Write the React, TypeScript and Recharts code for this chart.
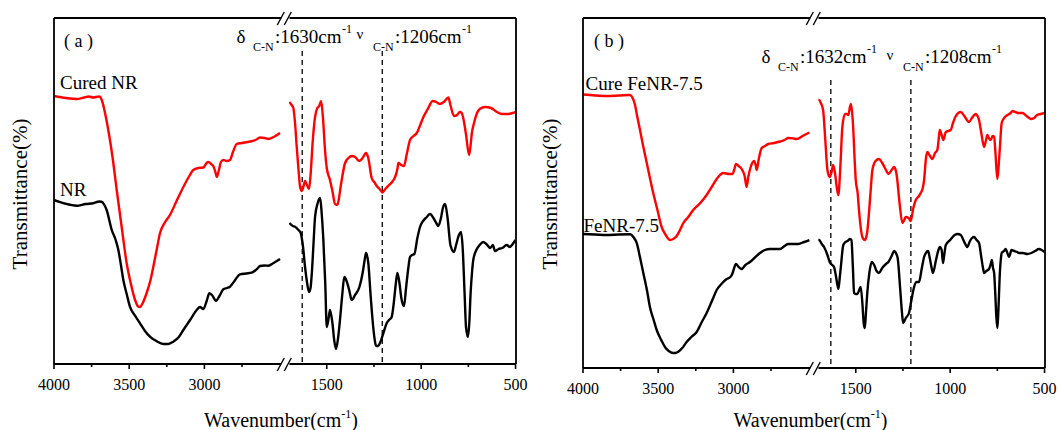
import React from 'react'
import { LineChart, Line, XAxis, YAxis, ReferenceLine } from 'recharts'

const FONT = "'Liberation Serif', 'Times New Roman', Times, serif"

// wavenumber (cm-1), transmittance (arb. units) -- high wavenumber part
const curedNRHigh = [
  [4000, 267], [3920, 265], [3850, 264], [3800, 265.5], [3770, 266.5], [3740, 265.5], [3700, 266.5],
  [3680, 262], [3665, 253], [3639, 233], [3610, 205], [3583, 173], [3550, 136], [3517, 100], [3490, 80],
  [3461, 63], [3440, 56.5], [3428, 56], [3410, 60], [3384, 70], [3360, 82], [3340, 96], [3315, 115],
  [3295, 130], [3265, 140], [3229, 148], [3185, 162], [3140, 176], [3100, 187], [3074, 193], [3040, 195],
  [3007, 195.5], [2985, 200], [2974, 201], [2955, 199], [2941, 197], [2925, 190], [2918, 186], [2905, 192],
  [2890, 201], [2874, 203], [2850, 202], [2830, 203], [2810, 211], [2785, 219], [2750, 220], [2697, 221.5],
  [2660, 223], [2630, 225.5], [2600, 225], [2575, 224], [2540, 226], [2497, 230],
]
const nrHigh = [
  [4000, 163], [3930, 159.5], [3849, 157.3], [3790, 159], [3739, 159.7], [3700, 161.5], [3683, 161.3],
  [3665, 158], [3650, 153], [3616, 133], [3590, 123], [3572, 113], [3555, 98], [3539, 83], [3515, 68],
  [3495, 56.3], [3460, 47], [3428, 39.7], [3395, 32], [3362, 26.3], [3320, 22], [3273, 19], [3240, 19],
  [3207, 21.3], [3170, 26], [3140, 33], [3095, 43], [3051, 53], [3030, 56], [3007, 54], [2985, 62],
  [2967, 69.7], [2950, 68], [2923, 62.3], [2900, 67], [2874, 73.7], [2850, 75], [2830, 76.3], [2800, 82],
  [2763, 88.7], [2720, 89.5], [2685, 90.3], [2650, 94], [2630, 97], [2600, 97.5], [2575, 97.3], [2540, 100],
  [2497, 104],
]
// fingerprint part
const curedNRLow = [
  [1698, 261], [1690, 259], [1677, 255], [1668, 240], [1659, 216], [1650, 194], [1641, 176], [1632, 172],
  [1624, 176], [1615, 182], [1605, 178], [1594, 174], [1585, 190], [1575, 220], [1562, 246], [1550, 255],
  [1540, 257], [1530, 262], [1520, 245], [1510, 215], [1500, 195], [1483, 183], [1470, 172], [1456, 159],
  [1445, 158], [1439, 161], [1425, 178], [1403, 200], [1385, 205], [1368, 207], [1350, 206], [1327, 202],
  [1310, 205], [1292, 210], [1280, 205], [1262, 185], [1245, 180], [1235, 177], [1220, 174], [1205, 170.5],
  [1190, 174], [1170, 178], [1150, 182], [1138, 186], [1125, 195], [1121, 200], [1105, 198], [1091, 197],
  [1075, 210], [1059, 223], [1040, 227], [1023, 230], [1005, 238], [988, 246], [965, 254], [939, 262],
  [920, 261], [900, 259], [880, 261], [856, 265.5], [845, 258], [826, 247], [810, 248], [795, 251],
  [785, 250], [772, 240], [762, 228], [746, 208], [738, 218], [732, 229], [720, 240], [705, 249.5],
  [690, 254], [661, 256], [630, 255], [599, 251], [570, 249], [538, 249], [515, 250], [500, 251],
]
const nrLow = [
  [1698, 140], [1680, 137], [1668, 136.3], [1650, 133], [1638, 130], [1625, 115], [1615, 96], [1604, 80],
  [1594, 71], [1586, 75], [1579, 90], [1570, 120], [1562, 146], [1548, 160], [1535, 165], [1527, 150],
  [1518, 123], [1508, 80], [1500, 36], [1490, 45], [1483, 53], [1470, 40], [1460, 22], [1451, 14],
  [1440, 25], [1430, 43], [1418, 68], [1407, 86], [1395, 82], [1380, 72], [1368, 63], [1350, 68],
  [1327, 76], [1310, 90], [1300, 102], [1292, 110], [1280, 100], [1267, 66], [1255, 38], [1245, 22],
  [1239, 17], [1228, 17], [1218, 20], [1200, 30], [1182, 40], [1170, 43], [1156, 46], [1145, 60],
  [1135, 78], [1126, 90], [1115, 80], [1105, 65], [1091, 57], [1080, 75], [1068, 95], [1059, 106],
  [1048, 108], [1036, 109], [1020, 125], [1006, 136], [990, 142], [970, 146], [953, 149], [935, 145],
  [920, 140], [909, 137], [895, 145], [885, 155], [873, 159], [860, 145], [845, 118], [826, 111],
  [815, 118], [800, 128], [789, 131], [780, 115], [770, 70], [762, 35], [752, 26], [745, 40], [738, 70],
  [730, 92], [724, 103], [705, 114], [690, 118], [671, 121], [655, 119], [634, 115], [620, 118],
  [609, 112], [590, 114], [570, 115], [547, 118], [530, 116], [515, 119], [500, 123],
]
const cureFeNRHigh = [
  [4000, 273.5], [3920, 272.5], [3842, 272], [3760, 272.5], [3687, 273], [3670, 270], [3654, 263],
  [3640, 252], [3621, 238], [3600, 222], [3576, 205], [3555, 190], [3533, 175], [3505, 158], [3477, 141],
  [3450, 133], [3422, 128], [3400, 129], [3377, 132], [3355, 138], [3333, 145], [3300, 151], [3267, 158],
  [3220, 165], [3178, 173], [3140, 182], [3111, 189], [3090, 193], [3067, 195], [3030, 194], [3005, 194],
  [2995, 198], [2983, 204], [2965, 202], [2945, 199], [2925, 192], [2912, 181], [2900, 192], [2885, 201],
  [2863, 207], [2852, 203], [2845, 198], [2830, 210], [2812, 220], [2790, 222], [2768, 224], [2730, 225],
  [2690, 226.5], [2660, 228], [2635, 230], [2600, 229.5], [2579, 229], [2540, 232], [2495, 235.5],
]
const feNRHigh = [
  [4000, 134], [3920, 133.5], [3842, 133], [3760, 133.5], [3687, 133.7], [3665, 131], [3643, 125],
  [3620, 110], [3599, 95], [3575, 78], [3555, 61], [3530, 48], [3510, 38], [3480, 28], [3455, 21],
  [3430, 17], [3410, 15.3], [3385, 15], [3366, 16.3], [3340, 20], [3311, 26], [3280, 31], [3244, 36],
  [3210, 46], [3178, 55], [3140, 68], [3111, 78], [3080, 84], [3045, 89], [3020, 91], [3005, 95],
  [2995, 100], [2983, 104], [2965, 101], [2945, 99], [2920, 103], [2890, 106], [2860, 110], [2823, 115],
  [2790, 118], [2757, 119], [2720, 119], [2690, 119], [2660, 122], [2635, 124], [2600, 124], [2569, 124],
  [2530, 126], [2495, 128],
]
const cureFeNRLow = [
  [1698, 268], [1694, 268], [1685, 265], [1673, 258], [1662, 230], [1650, 198], [1638, 191], [1628, 196],
  [1620, 203], [1610, 195], [1600, 180], [1592, 173], [1582, 200], [1571, 241], [1557, 254], [1548, 254],
  [1539, 253], [1530, 262], [1525, 264], [1515, 245], [1505, 205], [1500, 188], [1490, 175], [1483, 158],
  [1465, 131], [1452, 128], [1440, 135], [1430, 155], [1420, 180], [1412, 198], [1395, 207], [1377, 209],
  [1360, 205], [1340, 198], [1327, 194], [1310, 198], [1297, 201], [1285, 195], [1280, 188], [1268, 165],
  [1253, 145], [1243, 148], [1235, 151], [1220, 150], [1209, 147], [1195, 160], [1182, 168], [1165, 172],
  [1156, 175], [1145, 180], [1138, 188], [1128, 210], [1121, 216], [1110, 213], [1100, 210], [1094, 209],
  [1080, 215], [1068, 218], [1060, 230], [1055, 238], [1045, 233], [1036, 228], [1023, 236], [1010, 237],
  [997, 238], [985, 245], [970, 252], [944, 256], [925, 252], [900, 246], [885, 250], [864, 254],
  [855, 252], [847, 248], [835, 235], [820, 221], [810, 228], [803, 233], [795, 230], [785, 228],
  [775, 232], [767, 231], [760, 215], [750, 189], [742, 205], [735, 225], [727, 245], [710, 251],
  [697, 253], [680, 255], [670, 257], [655, 256], [640, 255], [617, 255], [595, 252], [573, 249],
  [555, 250], [540, 253], [520, 254], [500, 255],
]
const feNRLow = [
  [1698, 128], [1694, 128], [1680, 124], [1668, 121], [1650, 113], [1638, 106], [1625, 103], [1615, 101],
  [1605, 92], [1592, 79], [1585, 90], [1579, 101], [1566, 123], [1555, 126], [1544, 127], [1530, 129],
  [1523, 128], [1515, 100], [1509, 75], [1500, 74], [1491, 74], [1480, 79], [1474, 81], [1465, 65],
  [1458, 45], [1452, 40], [1446, 55], [1439, 75], [1428, 95], [1415, 106], [1400, 102], [1390, 97],
  [1377, 95], [1360, 100], [1340, 104], [1327, 106], [1310, 112], [1297, 117], [1285, 114], [1278, 110],
  [1265, 80], [1255, 55], [1249, 45], [1235, 50], [1218, 55], [1205, 68], [1191, 81], [1178, 86],
  [1165, 86], [1150, 100], [1138, 111], [1125, 116], [1117, 117], [1108, 110], [1098, 100], [1091, 95],
  [1075, 108], [1062, 118], [1055, 121], [1045, 118], [1038, 105], [1032, 112], [1023, 123], [1000, 128],
  [976, 133], [960, 134], [944, 133], [930, 128], [920, 124], [909, 121], [895, 127], [884, 130],
  [873, 131], [860, 128], [847, 125], [836, 112], [826, 100], [820, 95], [808, 97], [794, 99], [785, 104],
  [779, 108], [773, 100], [767, 95], [760, 70], [755, 50], [750, 40], [745, 55], [738, 90], [732, 108],
  [727, 115], [715, 117], [706, 119], [697, 115], [688, 111], [682, 114], [676, 118], [660, 117],
  [645, 116], [635, 115], [615, 115], [591, 114], [570, 115], [550, 117], [530, 119], [515, 118],
  [500, 116],
]

const highTicks = [4000, 3750, 3500, 3250, 3000, 2750]
const lowTicks = [1500, 1250, 1000, 750, 500]
const labelledTicks = [4000, 3500, 3000, 1500, 1000, 500]
const HIGH_DOMAIN = [2490, 4000]
const LOW_DOMAIN = [500, 1700]

// px per cm-1 on each side of the axis break
const HIGH_SCALE = 75.2 / 500
const LOW_SCALE = 94.4 / 500
const HIGH_W = (HIGH_DOMAIN[1] - HIGH_DOMAIN[0]) * HIGH_SCALE
const LOW_W = (LOW_DOMAIN[1] - LOW_DOMAIN[0]) * LOW_SCALE

const toPoints = (pairs: number[][]) => pairs.map(([wn, t]) => ({ wn, t }))

const panels = [
  {
    key: 'a', x0: 54, x1: 516, top: 18, bottom: 364, yDomain: [-1, 345], dashFrom: 312,
    bands: [1630, 1206],
    red: [curedNRHigh, curedNRLow], black: [nrHigh, nrLow],
  },
  {
    key: 'b', x0: 583, x1: 1045, top: 18, bottom: 368, yDomain: [0, 350], dashFrom: 288,
    bands: [1632, 1208],
    red: [cureFeNRHigh, cureFeNRLow], black: [feNRHigh, feNRLow],
  },
]

function AxisTick(props: any) {
  const { x, y, payload } = props
  const major = labelledTicks.includes(payload.value)
  return (
    <g>
      <line x1={x} x2={x} y1={y} y2={y + (major ? 5 : 3)} stroke="#000" strokeWidth={1.6} />
      {major && (
        <text x={x} y={y + 26} textAnchor="middle" fontSize={16} fontFamily={FONT} fill="#000">
          {payload.value}
        </text>
      )}
    </g>
  )
}

const ML = 24
const MR = 24

function Segment({ panel, side }: { panel: any; side: 'high' | 'low' }) {
  const high = side === 'high'
  const segW = high ? HIGH_W : LOW_W
  const left = high ? panel.x0 : panel.x1 - LOW_W
  const idx = high ? 0 : 1
  return (
    <div style={{ position: 'absolute', left: left - ML, top: 0 }}>
      <LineChart
        width={segW + ML + MR}
        height={430}
        margin={{ top: panel.top, right: MR, left: ML, bottom: 430 - panel.bottom - 40 }}
      >
        <XAxis
          type="number"
          dataKey="wn"
          domain={high ? HIGH_DOMAIN : LOW_DOMAIN}
          allowDataOverflow
          reversed
          ticks={high ? highTicks : lowTicks}
          interval={0}
          tick={<AxisTick />}
          tickLine={false}
          tickSize={0}
          tickMargin={0}
          height={40}
          axisLine={false}
        />
        <YAxis type="number" domain={panel.yDomain} allowDataOverflow hide width={0} />
        {!high &&
          panel.bands.map((b: number) => (
            <ReferenceLine
              key={b}
              segment={[{ x: b, y: panel.dashFrom }, { x: b, y: panel.yDomain[0] }]}
              stroke="#000"
              strokeWidth={1.3}
              strokeDasharray="5 4"
              ifOverflow="visible"
            />
          ))}
        <Line
          data={toPoints(panel.red[idx])}
          dataKey="t"
          type="monotone"
          stroke="#ff0000"
          strokeWidth={2.4}
          dot={false}
          isAnimationActive={false}
        />
        <Line
          data={toPoints(panel.black[idx])}
          dataKey="t"
          type="monotone"
          stroke="#000"
          strokeWidth={2.4}
          dot={false}
          isAnimationActive={false}
        />
      </LineChart>
    </div>
  )
}

function BreakMarks({ c, y }: { c: number; y: number }) {
  return (
    <g stroke="#000" strokeWidth={1.4}>
      <line x1={c - 8} y1={y + 7} x2={c - 1} y2={y - 6} />
      <line x1={c - 1} y1={y + 7} x2={c + 6} y2={y - 6} />
    </g>
  )
}

// box round a panel, open where the axis is broken
function Frame({ p }: { p: any }) {
  const hiEnd = p.x0 + HIGH_W
  const loStart = p.x1 - LOW_W
  return (
    <g stroke="#000" strokeWidth={1.8} fill="none">
      <line x1={p.x0} x2={hiEnd} y1={p.top} y2={p.top} />
      <line x1={loStart} x2={p.x1} y1={p.top} y2={p.top} />
      <line x1={p.x0} x2={hiEnd} y1={p.bottom} y2={p.bottom} />
      <line x1={loStart} x2={p.x1} y1={p.bottom} y2={p.bottom} />
      <line x1={p.x0} x2={p.x0} y1={p.top} y2={p.bottom} />
      <line x1={p.x1} x2={p.x1} y1={p.top} y2={p.bottom} />
    </g>
  )
}

function Band({ x, y, sym, symSize, symDy, text }: any) {
  // sym_{C-N}:text cm^-1
  return (
    <text fontFamily={FONT} fill="#000">
      <tspan x={x} y={y + symDy} fontSize={symSize}>{sym}</tspan>
      <tspan x={x + 16.5} y={y + 8.3} fontSize={12}>C-N</tspan>
      <tspan x={x + 38.5} y={y} fontSize={19}>{text}</tspan>
      <tspan x={x + 105.5} y={y - 9.5} fontSize={12}>-1</tspan>
    </text>
  )
}

function Overlay() {
  return (
    <svg width={1059} height={430} style={{ position: 'absolute', left: 0, top: 0, pointerEvents: 'none' }}>
      {panels.map((p, i) => {
        const c = (p.x0 + HIGH_W + p.x1 - LOW_W) / 2
        const off = i === 0 ? 0 : 529.5
        return (
          <g key={p.key}>
            <Frame p={p} />
            <BreakMarks c={c} y={p.top} />
            <BreakMarks c={c} y={p.bottom} />
            <text
              x={27 + off}
              y={194}
              transform={`rotate(-90 ${27 + off} 194)`}
              textAnchor="middle"
              fontSize={21}
              fontFamily={FONT}
            >
              Transmittance(%)
            </text>
            <text x={281 + off} y={427} textAnchor="middle" fontSize={20} fontFamily={FONT}>
              Wavenumber(cm<tspan fontSize={12} dy={-9}>-1</tspan><tspan dy={9}>)</tspan>
            </text>
          </g>
        )
      })}
      <text x={64} y={47} fontSize={18} fontFamily={FONT}>( a )</text>
      <text x={594} y={47} fontSize={18} fontFamily={FONT}>( b )</text>

      <Band x={236.5} y={42.5} sym="δ" symSize={19} symDy={0} text=":1630cm" />
      <Band x={356.5} y={42.5} sym="ν" symSize={15} symDy={-3.5} text=":1206cm" />
      <Band x={761.5} y={62.5} sym="δ" symSize={19} symDy={0} text=":1632cm" />
      <Band x={886.5} y={62.5} sym="ν" symSize={15} symDy={-3} text=":1208cm" />

      <text x={60} y={88.5} fontSize={19} fontFamily={FONT}>Cured NR</text>
      <text x={60} y={196} fontSize={19} fontFamily={FONT}>NR</text>
      <text x={585.5} y={89.5} fontSize={19} fontFamily={FONT}>Cure FeNR-7.5</text>
      <text x={583.5} y={232} fontSize={19} fontFamily={FONT}>FeNR-7.5</text>
    </svg>
  )
}

export default function App() {
  return (
    <div style={{ position: 'absolute', left: 0, top: 0, width: 1059, height: 430, background: '#fff', overflow: 'hidden' }}>
      {panels.map((p) => (
        <React.Fragment key={p.key}>
          <Segment panel={p} side="high" />
          <Segment panel={p} side="low" />
        </React.Fragment>
      ))}
      <Overlay />
    </div>
  )
}
